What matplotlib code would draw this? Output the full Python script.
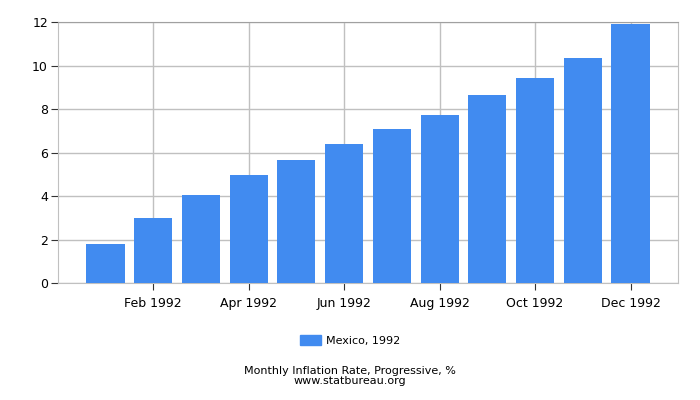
"""Mexico monthly inflation 1992, progressive"""

import matplotlib
matplotlib.use('Agg')
import matplotlib.pyplot as plt
import numpy as np
from matplotlib.patches import Patch

months = ['Jan 1992', 'Feb 1992', 'Mar 1992', 'Apr 1992', 'May 1992', 'Jun 1992',
          'Jul 1992', 'Aug 1992', 'Sep 1992', 'Oct 1992', 'Nov 1992', 'Dec 1992']
values = [1.81, 3.00, 4.06, 4.98, 5.67, 6.40, 7.09, 7.74, 8.66, 9.44, 10.36, 11.92]
series_label = 'Mexico, 1992'
bar_color = '#418bf0'

fig = plt.figure(figsize=(7, 4), dpi=100)
ax = fig.add_axes([0.0824, 0.2918, 0.8866, 0.6522])

x = np.arange(len(months))
ax.bar(x, values, width=0.8, color=bar_color, zorder=3)

ax.set_xlim(-1, len(months))
ax.set_ylim(0, 12)
ax.set_yticks(range(0, 13, 2))
ax.set_xticks(x[1::2])
ax.set_xticklabels(months[1::2])

ax.grid(True, color='#c0c0c0', linewidth=1, zorder=0)
for side in ['right', 'bottom']:
    ax.spines[side].set_color('#c0c0c0')
ax.spines['top'].set_color('#a0a0a0')
ax.spines['left'].set_color('#c0c0c0')
ax.tick_params(axis='both', labelsize=9, color='#333333', length=5)
ax.tick_params(axis='y', pad=2)
ax.tick_params(axis='x', pad=5)

fig.legend(handles=[Patch(color=bar_color, label=series_label)],
           loc='center', bbox_to_anchor=(0.5, 0.148), frameon=False,
           fontsize=8, handlelength=1.9, handleheight=1.0, handletextpad=0.5)
fig.text(0.5, 0.066, 'Monthly Inflation Rate, Progressive, %', ha='center', fontsize=8)
fig.text(0.5, 0.04, 'www.statbureau.org', ha='center', fontsize=8)

plt.savefig('out.png', dpi=100, facecolor='white')
plt.close()
